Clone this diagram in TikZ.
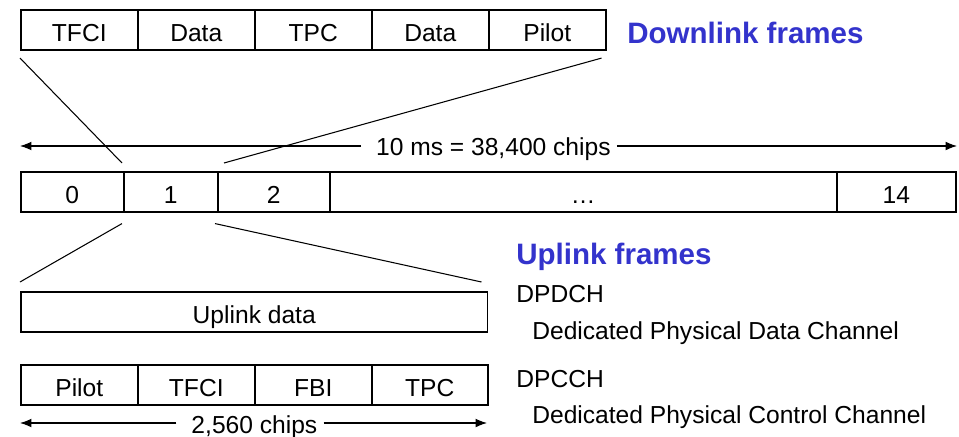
\documentclass[tikz,border=0pt]{standalone}
\usepackage{fontspec}
\setmainfont{Liberation Sans}
\usetikzlibrary{calc,arrows.meta}
\definecolor{frameblue}{RGB}{51,51,204}

\begin{document}
\begin{tikzpicture}[x=0.02cm,y=-0.02cm,
    every node/.style={font=\fontsize{14}{16}\selectfont},
    cell/.style={draw,line width=0.9pt,anchor=north west,inner sep=0pt,minimum height=0.81cm,text height=13pt,text depth=0pt},
    head/.style={anchor=base west,inner sep=0pt,text=frameblue,font=\fontsize{16.8}{20}\selectfont\bfseries},
    note/.style={anchor=base west,inner sep=0pt},
    link/.style={line width=0.6pt},
    span/.style={line width=0.6pt,-{Latex[length=6.5pt,width=5pt]}}]
    \useasboundingbox (0,0) rectangle (959,436);
    % downlink slot
    \node[cell,minimum width=2.34cm] (dtfci) at (20,9) {TFCI};
    \node[cell,minimum width=2.34cm] (ddata) at (137,9) {Data};
    \node[cell,minimum width=2.34cm] (dtpc) at (254,9) {TPC};
    \node[cell,minimum width=2.34cm] (ddata2) at (371,9) {Data};
    \node[cell,minimum width=2.34cm] (dpilot) at (488,9) {Pilot};
    \node[head] (dlhead) at (627,43) {Downlink frames};
    % radio frame
    \node (frame) at (489,149) {\hspace{5pt}10 ms = 38,400 chips\hspace{5pt}};
    \coordinate (frameL) at (20,146);
    \coordinate (frameR) at (957,146);
    \draw[span] (frame.west |- frameL) -- (frameL);
    \draw[span] (frame.east |- frameR) -- (frameR);
    \node[cell,minimum width=2.06cm,minimum height=0.8cm] (s0) at (20,171) {0};
    \node[cell,minimum width=1.88cm,minimum height=0.8cm] (s1) at (123,171) {1};
    \node[cell,minimum width=2.24cm,minimum height=0.8cm] (s2) at (217,171) {2};
    \node[cell,minimum width=10.14cm,minimum height=0.8cm] (sdots) at (329,171) {…};
    \node[cell,minimum width=2.38cm,minimum height=0.8cm] (s14) at (836,171) {14};
    \draw[link] ($(dtfci.south west)+(0,7)$) -- ($(s1.north west)+(-1,-8)$);
    \draw[link] ($(dpilot.south east)+(-5,7)$) -- ($(s2.north west)+(7,-8)$);
    % uplink slot
    \node[cell,minimum width=9.34cm,minimum height=0.8cm] (updata) at (20,291) {Uplink data};
    \draw[link] ($(s1.south west)+(-1,11)$) -- ($(updata.north west)+(0,-9)$);
    \draw[link] ($(s2.south west)+(-2,11)$) -- ($(updata.north east)+(-7,-9)$);
    \node[cell,minimum width=2.34cm,minimum height=0.8cm] (upilot) at (20,364) {Pilot};
    \node[cell,minimum width=2.34cm,minimum height=0.8cm] (utfci) at (137,364) {TFCI};
    \node[cell,minimum width=2.34cm,minimum height=0.8cm] (ufbi) at (254,364) {FBI};
    \node[cell,minimum width=2.32cm,minimum height=0.8cm] (utpc) at (371,364) {TPC};
    \node (chips) at (250,427) {\hspace{5pt}2,560 chips\hspace{5pt}};
    \coordinate (chipsL) at (20,423);
    \coordinate (chipsR) at (487,423);
    \draw[span] (chips.west |- chipsL) -- (chipsL);
    \draw[span] (chips.east |- chipsR) -- (chipsR);
    % uplink notes
    \node[head] (ulhead) at (516,264) {Uplink frames};
    \node[note] (dpdch) at (516,302) {DPDCH};
    \node[note] (dpdchtxt) at (532,339) {Dedicated Physical Data Channel};
    \node[note] (dpcch) at (516,387) {DPCCH};
    \node[note] (dpcchtxt) at (532,423) {Dedicated Physical Control Channel};
\end{tikzpicture}
\end{document}
